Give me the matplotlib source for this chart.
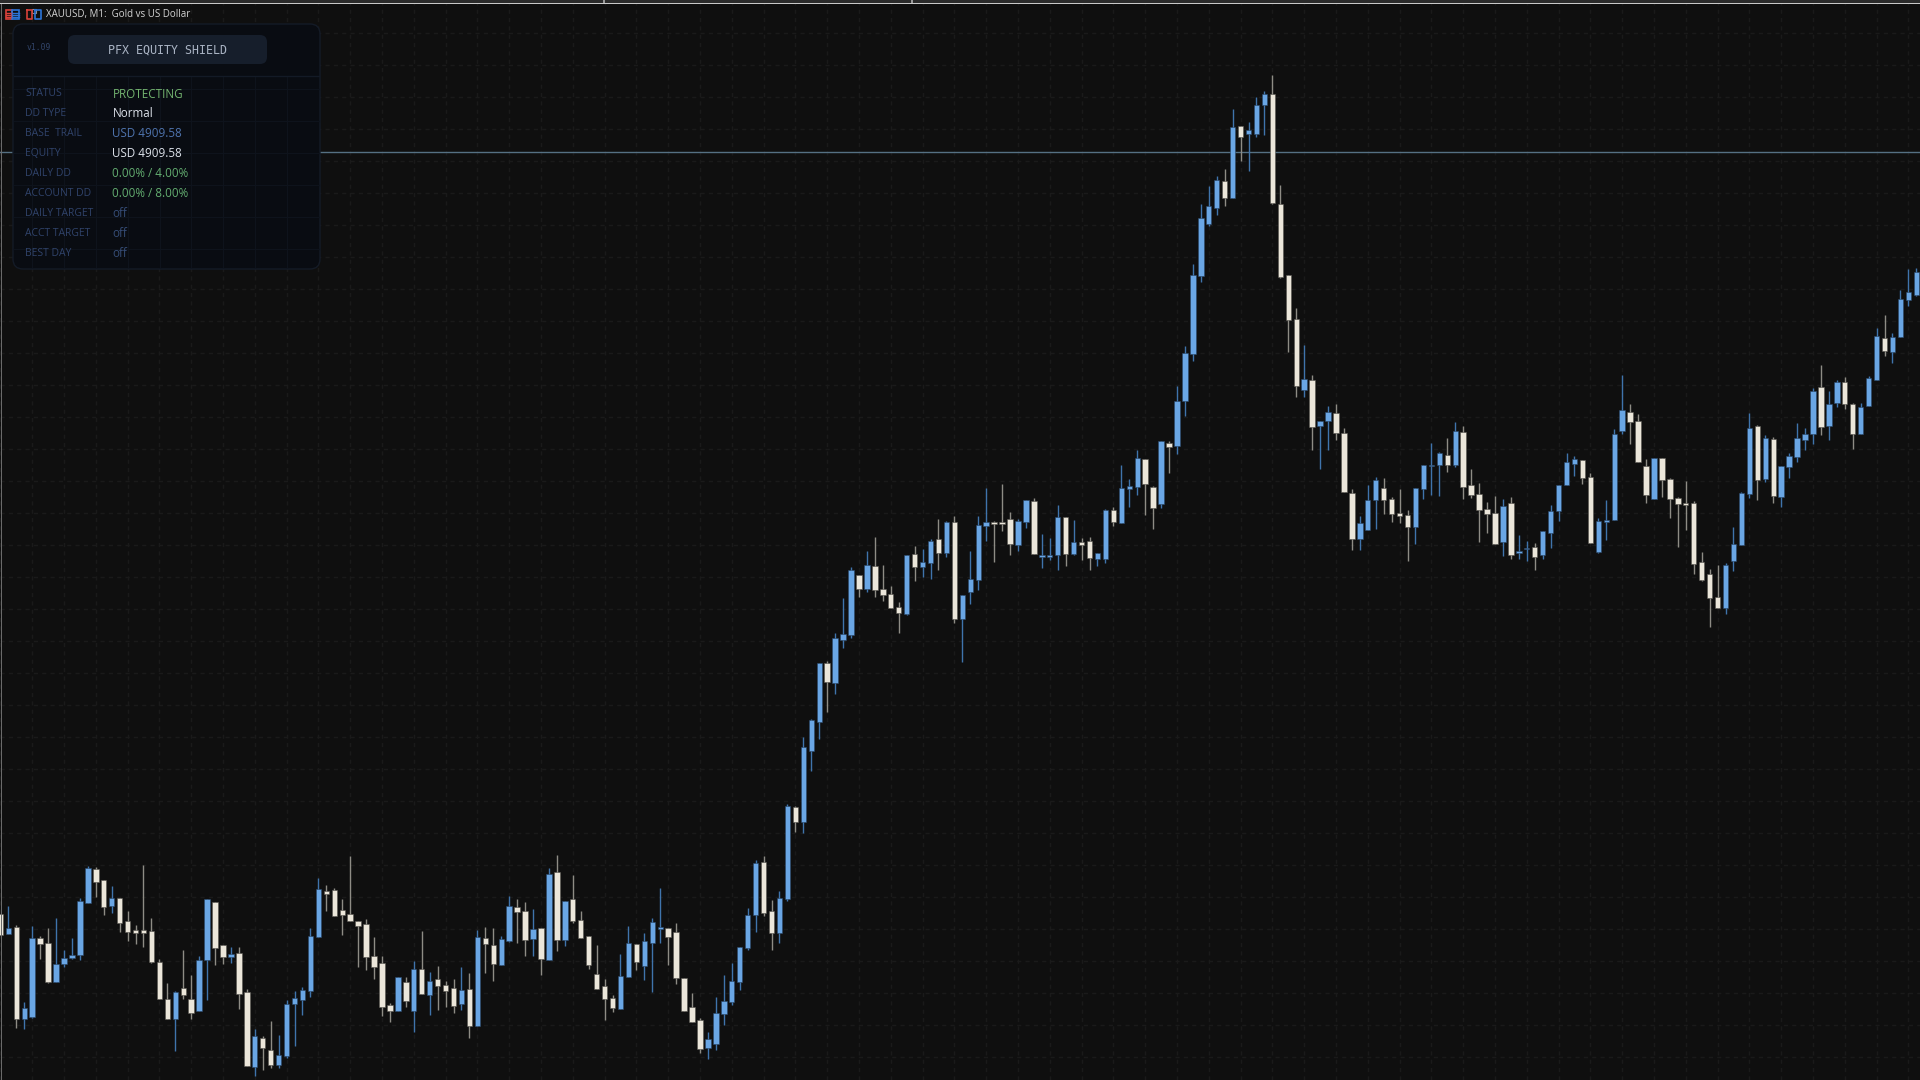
import numpy as np
import matplotlib
matplotlib.use("Agg")
import matplotlib.pyplot as plt
from matplotlib.patches import FancyBboxPatch, Rectangle
from matplotlib.ticker import MultipleLocator

# Candle direction: b = rising (blue), c = falling (cream)
direction = ("cbcbbccbbb" "bbccbccccc" "ccbccbbccb" "ccbccbbbbb" "bccccccccc"
             "bcbcbcccbc" "bccbbccbcb" "cbccccccbb" "cbbbcccccb" "bbbbbbccbb"
             "cbbbcbbbcb" "ccccbcbbcb" "cbbbbcccbb" "cbbbcbccbb" "cbbbccbcbb"
             "bbbbcbcbbb" "ccccbcbbcc" "cbbbccccbb" "bbcbcccccb" "cbbcbbbbbc"
             "cbbbbcccbc" "cccccccbbb" "bcbcbbbbbc" "bbccbbbcbb" "bb")

# Price levels, in points above the floor of the chart window
highs = [166,174,155,78,154,144,152,162,130,142,
182,214,213,200,194,182,169,155,215,162,
121,97,89,130,105,124,181,178,135,133,
133,91,51,44,59,45,80,89,93,152,
202,195,192,181,224,159,161,143,124,77,
103,103,119,149,108,114,99,101,113,107,
150,153,152,144,184,181,178,171,152,212,
225,179,205,169,144,135,101,85,126,154,
136,147,162,192,152,157,102,87,62,48,
83,105,117,133,172,220,224,180,189,276,
274,343,361,417,419,447,482,513,505,529,
543,515,494,478,525,534,531,541,561,559,
564,485,529,564,592,559,596,568,561,580,
582,546,542,575,563,560,542,543,527,571,
573,615,601,630,621,594,639,639,694,734,
816,876,894,904,911,971,954,958,983,989,
1005,895,805,772,735,705,659,674,676,652,
591,564,595,603,602,583,591,570,592,615,
637,628,642,658,654,611,597,578,584,581,
583,545,539,537,549,575,595,627,624,620,
607,562,580,651,705,676,666,621,622,622,
602,583,599,579,528,511,515,517,553,588,
667,655,645,643,614,627,657,652,692,715,
689,700,703,677,677,704,752,765,747,790,
811,812]

body_tops = [166,152,153,72,142,142,137,116,122,125,
179,212,211,200,182,182,159,150,150,149,
118,81,88,92,81,120,181,178,135,126,
127,88,44,42,30,25,76,82,90,144,
191,189,190,170,166,159,156,124,117,75,
103,98,111,111,99,101,95,92,90,91,
143,142,135,141,174,173,169,151,152,206,
208,179,181,160,144,106,94,82,104,137,
136,139,158,153,152,148,102,73,60,41,
67,79,99,133,165,217,218,169,182,274,
273,333,360,417,417,442,446,510,505,515,
514,491,486,473,525,526,518,539,541,558,
558,485,501,555,558,558,558,561,559,580,
579,525,525,563,563,538,538,539,527,570,
570,592,594,622,621,593,639,637,679,727,
805,862,874,900,899,953,954,950,975,986,
986,876,805,761,701,700,659,668,667,647,
587,557,580,600,592,581,567,565,592,615,
615,627,625,649,648,595,586,571,567,574,
577,529,532,533,549,569,595,618,621,620,
603,559,560,646,670,668,659,614,622,622,
601,582,577,577,518,506,483,515,536,587,
652,654,642,641,614,624,642,646,689,693,
676,698,698,676,673,702,744,742,743,781,
788,808]

body_bottoms = [145,146,61,61,63,136,98,98,116,122,
125,177,198,173,174,157,148,147,147,118,
81,61,61,85,67,69,120,132,123,123,
86,14,13,32,15,15,24,76,80,89,
143,186,164,165,159,154,123,113,73,69,
69,79,69,86,85,94,89,74,76,54,
54,136,116,115,139,168,140,141,121,120,
140,140,159,142,115,91,81,72,71,103,
118,114,137,151,143,102,69,58,31,32,
36,66,78,98,132,165,167,147,147,181,
258,258,329,358,398,397,440,445,491,491,
490,485,472,467,466,513,513,517,527,527,
461,461,488,500,554,556,556,536,535,558,
526,523,523,525,526,526,535,522,521,521,
558,557,591,593,596,572,576,633,634,679,
726,804,856,872,882,882,943,946,946,975,
877,803,760,694,690,653,654,659,647,588,
541,541,550,580,580,566,564,553,553,591,
614,615,615,615,593,585,570,566,536,538,
525,527,531,523,525,547,569,595,616,602,
537,528,558,560,649,658,618,585,581,600,
581,576,575,516,500,482,472,472,519,535,
586,600,601,584,583,613,623,640,646,653,
654,677,676,646,646,674,700,729,728,743,
780,785]

lows = [145,146,52,51,62,121,97,98,113,121,
120,177,183,165,167,148,139,136,133,117,
81,61,29,81,61,69,80,115,116,117,
71,14,4,10,12,12,22,34,65,83,
143,169,164,145,159,113,110,101,64,58,
69,73,48,86,65,70,73,67,70,42,
54,107,99,115,138,137,124,124,105,120,
129,134,157,142,111,91,60,68,71,103,
110,100,88,137,115,96,69,58,27,21,
30,55,75,90,130,148,164,130,137,179,
248,247,309,341,368,386,432,442,483,488,
483,479,472,447,465,499,503,501,510,523,
457,418,476,490,539,518,549,525,529,552,
526,512,520,510,514,525,520,510,514,517,
554,557,573,585,565,551,572,607,626,664,
719,798,854,865,874,882,919,909,943,945,
876,802,728,683,683,630,611,630,640,588,
530,530,550,551,566,558,557,519,536,581,
585,584,608,613,581,582,538,547,536,524,
521,521,519,510,521,532,559,595,604,596,
537,527,540,560,646,636,618,577,581,583,
562,533,550,506,499,453,472,466,509,535,
582,580,598,577,573,602,618,630,636,645,
640,673,671,631,646,674,700,724,717,743,
774,784]

equity_line_level = 928

panel_labels = ["STATUS", "DD TYPE", "BASE  TRAIL", "EQUITY", "DAILY DD",
                "ACCOUNT DD", "DAILY TARGET", "ACCT TARGET", "BEST DAY"]
panel_values = ["PROTECTING", "Normal", "USD 4909.58", "USD 4909.58",
                "0.00% / 4.00%", "0.00% / 8.00%", "off", "off", "off"]
panel_value_colors = ["#74b570", "#dde2ea", "#4f74ae", "#dde2ea", "#63ad70",
                      "#63ad70", "#354c76", "#354c76", "#354c76"]

BG = "#0f0f0f"
BLUE = "#6aa6e4"
BLUE_WICK = "#3f74ac"
CREAM = "#ebe6da"
CREAM_WICK = "#8e8c85"

plt.rcParams["font.family"] = ["Open Sans", "DejaVu Sans"]

fig = plt.figure(figsize=(19.2, 10.8), dpi=100, facecolor=BG)
ax = fig.add_axes([0, 0, 1, 1], facecolor=BG)

x = np.arange(len(highs))
is_up = np.array([d == "b" for d in direction])
hi, lo = np.array(highs, float), np.array(lows, float)
top, bot = np.array(body_tops, float), np.array(body_bottoms, float)

ax.vlines(x[is_up], lo[is_up], hi[is_up], color=BLUE_WICK, lw=1.0, zorder=3)
ax.vlines(x[~is_up], lo[~is_up], hi[~is_up], color=CREAM_WICK, lw=1.0, zorder=3)
ax.bar(x[is_up], (top - bot)[is_up], bottom=bot[is_up], width=0.68, color=BLUE,
       edgecolor="#2a4666", linewidth=0.4, zorder=4)
ax.bar(x[~is_up], (top - bot)[~is_up], bottom=bot[~is_up], width=0.68, color=CREAM,
       edgecolor="#55534e", linewidth=0.4, zorder=4)
ax.axhline(equity_line_level, color="#557083", lw=1.0, zorder=2)

ax.set_xlim(-0.05, 241.46)
ax.set_ylim(0, 1080)
ax.xaxis.set_major_locator(MultipleLocator(4))
ax.yaxis.set_major_locator(MultipleLocator(32, offset=23))
ax.grid(True, color="#1a1a1a", lw=1.0, linestyle=(0, (3, 3)), zorder=0)
ax.tick_params(length=0, labelbottom=False, labelleft=False)
for s in ax.spines.values():
    s.set_visible(False)

# Window furniture and overlay panel, placed in screen pixels
ov = fig.add_axes([0, 0, 1, 1], facecolor="none")
ov.set_xlim(0, 1920)
ov.set_ylim(1080, 0)
ov.axis("off")

ov.add_patch(Rectangle((0, 0), 1920, 2.5, fc="#2b2b2b", ec="none"))
ov.add_patch(Rectangle((0, 2.5), 1920, 1.5, fc="#c9c9c9", ec="none"))
ov.add_patch(Rectangle((0.5, 4), 1, 1076, fc="#6a6a6a", ec="none"))
for tx in (604, 912):
    ov.add_patch(Rectangle((tx - 1, 0), 2, 2.5, fc="#9a9a9a", ec="none"))

# Toolbar icons
ov.add_patch(Rectangle((5.5, 10), 6.5, 9, fc="none", ec="#d8413a", lw=1.2))
ov.add_patch(Rectangle((12, 10), 7, 9, fc="none", ec="#2b74d8", lw=1.2))
for yy in (12.7, 15, 17.3):
    ov.plot([6, 12], [yy, yy], color="#d8413a", lw=1.0)
    ov.plot([12, 19], [yy, yy], color="#2b74d8", lw=1.0)
ov.plot([27, 27, 32, 32, 27], [10, 19, 19, 10, 10], color="#d8413a", lw=1.2)
ov.plot([35, 35, 40.5, 40.5, 35], [10, 19, 19, 10, 10], color="#2b74d8", lw=1.2)
ov.add_patch(Rectangle((31.5, 9), 4.5, 3.5, fc=BG, ec="#8a8f98", lw=0.8))

ov.text(46, 15, "XAUUSD, M1:  Gold vs US Dollar", color="#d4d4d4",
        fontsize=7.0, va="center", ha="left", fontweight="medium",
        family=["Open Sans", "DejaVu Sans"])

# Panel
ov.add_patch(FancyBboxPatch((19, 30), 295, 233, boxstyle="round,pad=6,rounding_size=10",
                            fc="#090c12", ec="#141b27", lw=1.0, zorder=5))
for gy in (25 + 32 * np.arange(2, 8)):
    ov.plot([14, 319], [gy, gy], color="#0e131c", lw=0.8, zorder=5.1)
for gx in 32.3 + 31.8 * np.arange(0, 9):
    ov.plot([gx, gx], [77, 267], color="#0e131c", lw=0.8, zorder=5.1)
ov.plot([14, 319], [76, 76], color="#131a26", lw=1.0, zorder=5.2)
ov.add_patch(FancyBboxPatch((74, 41), 187, 17, boxstyle="round,pad=6,rounding_size=7",
                            fc="#161e2b", ec="none", zorder=5.3))
ov.text(167.5, 50, "PFX EQUITY SHIELD", color="#aab4c4", fontsize=8.4, ha="center",
        va="center", family="DejaVu Sans Mono", zorder=6)
ov.text(27, 48, "v1.09", color="#32456a", fontsize=5.8, ha="left", va="center",
        family="DejaVu Sans Mono", zorder=6)

row_y = 93.5 + 19.95 * np.arange(len(panel_labels))
for yy, lab, val, col in zip(row_y, panel_labels, panel_values, panel_value_colors):
    ov.text(25, yy, lab, color="#30436b", fontsize=7.5, ha="left", va="center",
            fontweight="medium", zorder=6)
    ov.text(112.5, yy + 0.5, val, color=col, fontsize=8.4, ha="left", va="center",
            fontweight="medium", zorder=6)

fig.savefig("out.png", dpi=100, facecolor=BG)
